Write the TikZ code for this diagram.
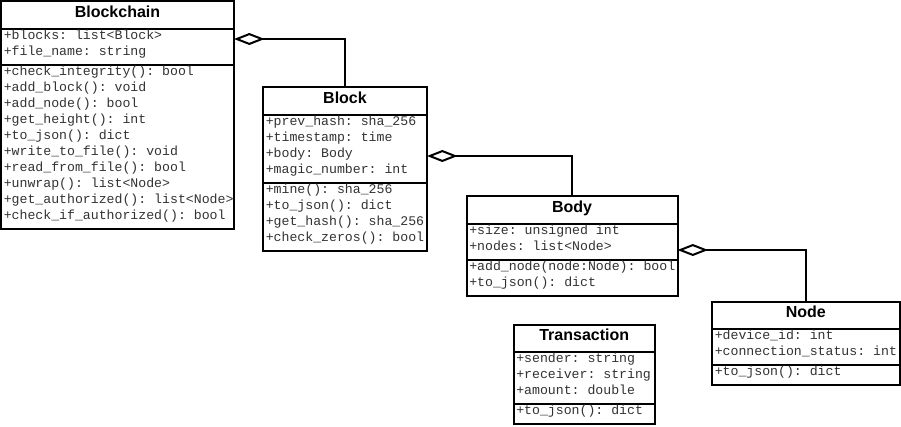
\documentclass[tikz,border=0pt]{standalone}
\usepackage{fontspec}
\setmainfont{Liberation Sans}
\setmonofont{Liberation Mono}
\usetikzlibrary{arrows.meta,calc}
\tikzset{
  cls/.style={draw, line width=1.5pt, inner sep=0pt, outer sep=0pt, anchor=north west, fill=white},
  divider/.style={line width=1.5pt},
  ctitle/.style={font=\fontsize{12}{14}\selectfont\bfseries, inner sep=0pt, anchor=base},
  mono/.style={font=\fontsize{9.9}{12}\selectfont\ttfamily, text=black!80, inner sep=0pt, anchor=base west},
  agg/.style={line width=1.5pt, -{Diamond[open, length=23pt, width=9pt, line width=1.5pt]}},
}
% #1 name, #2 left, #3 top, #4 width, #5 title, #6 n attrs, #7 attrs, #8 n methods, #9 methods
\newcommand\umlclass[9]{%
  \pgfmathsetmacro\ydB{31.5+16*#6}%
  \pgfmathsetmacro\yH{\ydB+4+16*#8}%
  \pgfmathsetmacro\wpt{#4*0.75}%
  \pgfmathsetmacro\hpt{\yH*0.75}%
  \node[cls, minimum width=\wpt pt, minimum height=\hpt pt] (#1) at (#2,#3) {};
  \draw[divider] ($(#1.north west)+(0,27.5)$) -- ($(#1.north east)+(0,27.5)$);
  \draw[divider] ($(#1.north west)+(0,\ydB)$) -- ($(#1.north east)+(0,\ydB)$);
  \node[ctitle] (#1-t) at ($(#1.north)+(0,16)$) {#5};
  \foreach \s [count=\i] in {#7} {
    \pgfmathsetmacro\yy{22+16*\i}
    \node[mono] (#1-a\i) at ($(#1.north west)+(2.5,\yy)$) {\s};
  }
  \foreach \s [count=\i] in {#9} {
    \pgfmathsetmacro\yy{\ydB-5.5+16*\i}
    \node[mono] (#1-m\i) at ($(#1.north west)+(2.5,\yy)$) {\s};
  }
}
\begin{document}
\begin{tikzpicture}[x=0.75pt, y=-0.75pt]
\useasboundingbox[fill=white] (0,0) rectangle (901,426);

\umlclass{bc}{1}{1}{233}{Blockchain}{2}{+blocks: list<Block>,+file\_name: string}{10}{+check\_integrity(): bool,+add\_block(): void,+add\_node(): bool,+get\_height(): int,+to\_json(): dict,+write\_to\_file(): void,+read\_from\_file(): bool,+unwrap(): list<Node>,+get\_authorized(): list<Node>,+check\_if\_authorized(): bool}

\umlclass{block}{263}{87.3}{164}{Block}{4}{+prev\_hash: sha\_256,+timestamp: time,+body: Body,+magic\_number: int}{4}{+mine(): sha\_256,+to\_json(): dict,+get\_hash(): sha\_256,+check\_zeros(): bool}

\umlclass{body}{466.5}{196.3}{211}{Body}{2}{+size: unsigned int,+nodes: list<Node>}{2}{+add\_node(node:Node): bool,+to\_json(): dict}

\umlclass{tx}{513.5}{324.7}{141.5}{Transaction}{3}{+sender: string,+receiver: string,+amount: double}{1}{+to\_json(): dict}

\umlclass{nd}{712}{301.5}{187.5}{Node}{2}{+device\_id: int,+connection\_status: int}{1}{+to\_json(): dict}

\coordinate (bcA) at ($(bc.north east)+(0,38)$);
\coordinate (blockA) at ($(block.north east)+(0,68.7)$);
\coordinate (bodyA) at ($(body.north east)+(0,53.7)$);

\draw[agg] (block.north) |- (bcA);
\draw[agg] (body.north) |- (blockA);
\draw[agg] (nd.north) |- (bodyA);
\end{tikzpicture}
\end{document}
